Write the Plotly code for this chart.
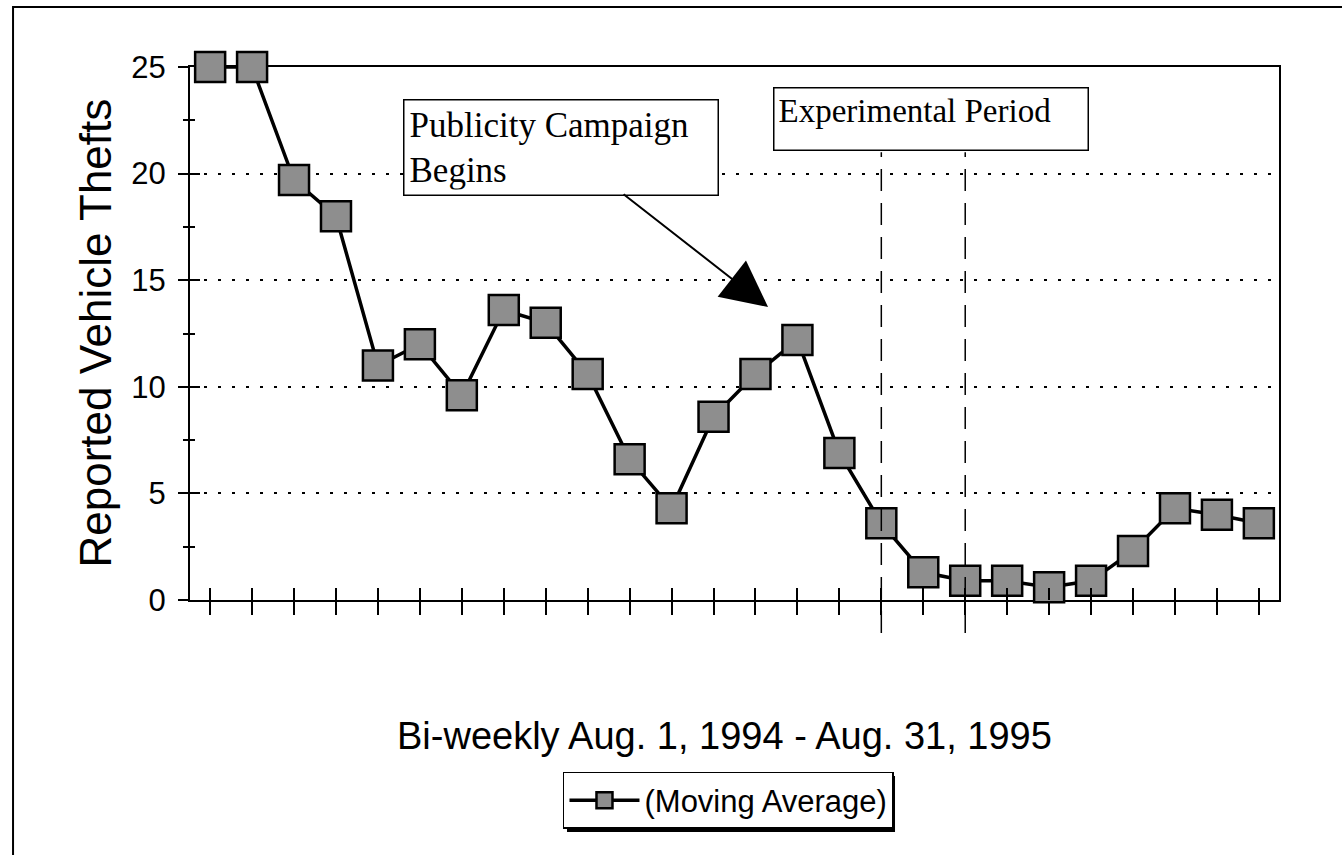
import plotly.graph_objects as go

# ---------------- data ----------------
period = list(range(1, 27))  # bi-weekly periods, Aug 1 1994 - Aug 31 1995
thefts = [25.0, 25.0, 19.7, 18.0, 11.0, 12.0, 9.6, 13.6, 13.0, 10.6,
          6.6, 4.3, 8.6, 10.6, 12.2, 6.9, 3.6, 1.3, 0.9, 0.9,
          0.6, 0.9, 2.3, 4.3, 4.0, 3.6]
series_name = "(Moving Average)"
experiment_bounds = [17, 19]          # periods marking the experimental period
y_title = "Reported Vehicle Thefts"
x_title = "Bi-weekly Aug. 1, 1994 - Aug. 31, 1995"
campaign_label = "Publicity Campaign<br>Begins"
experiment_label = "Experimental Period"

SANS = "Liberation Sans, Arial, Helvetica, sans-serif"
SERIF = "Liberation Serif, Times New Roman, serif"

X_RANGE = [0.52, 26.48]
Y_RANGE = [0, 25]

fig = go.Figure()
fig.add_trace(go.Scatter(
    x=period, y=thefts, mode="lines+markers", name=series_name,
    line=dict(color="black", width=3.5),
    marker=dict(symbol="square", size=30, color="#8e8e8e",
                line=dict(color="black", width=2.5)),
    cliponaxis=False, hoverinfo="x+y"))
# invisible companion trace that carries the inside half of the crossing ticks
fig.add_trace(go.Scatter(
    x=period, y=thefts, xaxis="x2", yaxis="y2", mode="lines",
    line=dict(width=0), showlegend=False, hoverinfo="skip"))

# vertical dashed lines bounding the experimental period
for xv in experiment_bounds:
    fig.add_shape(type="line", xref="x", yref="paper", x0=xv, x1=xv,
                  y0=-0.062, y1=0.84,
                  line=dict(color="black", width=1.5, dash="22px,12px"))

# outer frame of the figure
fig.add_shape(type="rect", xref="paper", yref="paper",
              x0=-0.1625, x1=1.08, y0=-0.55, y1=1.1126,
              line=dict(color="black", width=2), layer="below")

# drop shadow behind the legend box
fig.add_shape(type="rect", xref="paper", yref="paper",
              x0=0.3462, x1=0.6474, y0=-0.4353, y1=-0.3302,
              line=dict(width=0), fillcolor="black", layer="above")

# annotations
fig.add_annotation(xref="paper", yref="paper", x=0.1956, y=0.940,
                   xanchor="left", yanchor="top", text=campaign_label,
                   align="left", valign="top", width=303, height=84,
                   showarrow=False, bordercolor="black", borderwidth=1.5,
                   borderpad=5, bgcolor="white",
                   font=dict(family=SERIF, size=35, color="black"))
fig.add_annotation(xref="x", yref="y", x=14.3, y=13.74, axref="x", ayref="y",
                   ax=10.82, ay=19.09, text="", showarrow=True,
                   arrowhead=2, arrowwidth=2, arrowsize=4.6,
                   arrowcolor="black", standoff=0, startstandoff=0)
fig.add_annotation(xref="paper", yref="paper", x=0.5354, y=0.9625,
                   xanchor="left", yanchor="top", text=experiment_label,
                   align="left", valign="top", width=305, height=53,
                   showarrow=False, bordercolor="black", borderwidth=1.5,
                   borderpad=4, bgcolor="white",
                   font=dict(family=SERIF, size=33, color="black"))
fig.add_annotation(xref="paper", yref="paper", x=-0.0872, y=0.5,
                   xanchor="center", yanchor="middle",
                   text=y_title, textangle=-90, showarrow=False,
                   font=dict(family=SANS, size=44, color="black"))
fig.add_annotation(xref="paper", yref="paper", x=0.491, y=-0.2552,
                   xanchor="center", yanchor="middle",
                   text=x_title, showarrow=False,
                   font=dict(family=SANS, size=38, color="black"))

tick_common = dict(tickcolor="black", tickwidth=1.5, showticklabels=False,
                   zeroline=False)

fig.update_layout(
    width=1342, height=855,
    margin=dict(l=190, r=63, t=67, b=255),
    paper_bgcolor="white", plot_bgcolor="white",
    showlegend=True,
    legend=dict(x=0.3425, y=-0.3227, xanchor="left", yanchor="top",
                bordercolor="black", borderwidth=1.5, bgcolor="white",
                itemwidth=70,
                font=dict(family=SANS, size=31, color="black")),
    xaxis=dict(range=X_RANGE, tickmode="linear", tick0=1, dtick=1,
               ticks="outside", ticklen=13, showgrid=False,
               showline=True, linecolor="black", linewidth=2, mirror=True,
               layer="below traces", **tick_common),
    xaxis2=dict(overlaying="x", anchor="y", side="bottom", range=X_RANGE,
                tickmode="linear", tick0=1, dtick=1, ticks="inside",
                ticklen=12, showgrid=False, showline=False, **tick_common),
    yaxis=dict(range=Y_RANGE, tickmode="linear", tick0=0, dtick=5,
               ticks="outside", ticklen=10, tickcolor="black", tickwidth=1.5,
               minor=dict(ticks="outside", ticklen=5, dtick=2.5, tick0=0,
                          tickwidth=1.5, tickcolor="black"),
               showgrid=True, gridcolor="black", gridwidth=1.5,
               griddash="3px,11px", zeroline=False,
               showline=True, linecolor="black", linewidth=2, mirror=True,
               layer="below traces", ticklabelstandoff=6,
               tickfont=dict(family=SANS, size=31, color="black")),
    yaxis2=dict(overlaying="y", anchor="x", side="left", range=Y_RANGE,
                tickmode="linear", tick0=0, dtick=5, ticks="inside",
                ticklen=10,
                minor=dict(ticks="inside", ticklen=5, dtick=2.5, tick0=0,
                           tickwidth=1.5, tickcolor="black"),
                showgrid=False, showline=False, **tick_common),
)

fig.write_html("out.html", config={"displayModeBar": False},
               post_script="document.body.style.margin='0';")
